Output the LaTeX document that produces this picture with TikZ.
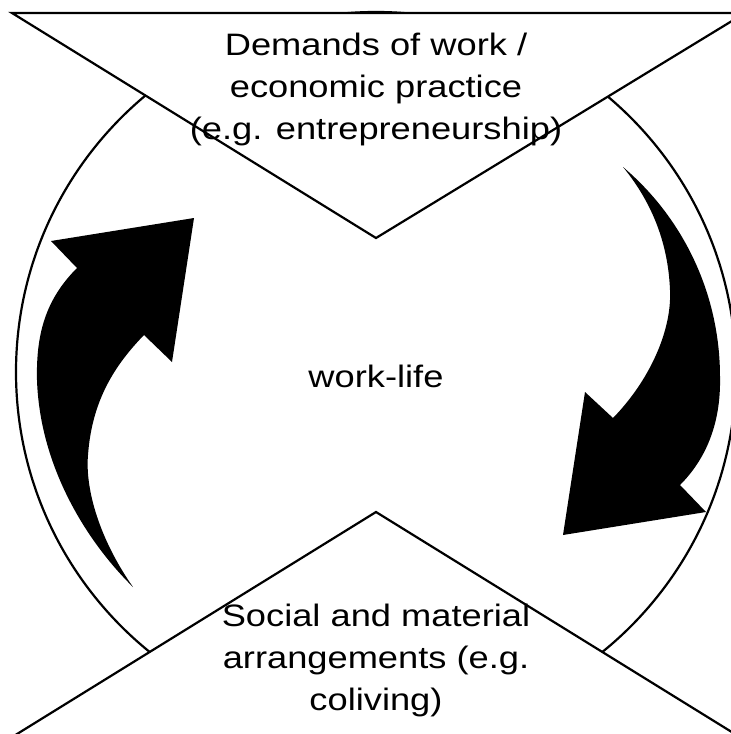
\documentclass[tikz,border=0pt]{standalone}
\usepackage{fontspec}
\setmainfont{Liberation Sans}[FakeStretch=1.17]

\begin{document}
\begin{tikzpicture}[x=0.5pt, y=-0.5pt]
            \tikzstyle{panel}=[draw, fill=white, line width=1.1pt]
            \tikzstyle{ring}=[draw, line width=1.1pt]
            \tikzstyle{bigarrow}=[fill=black]
            \tikzstyle{caption}=[align=center, inner sep=0pt, font=\fontsize{15.5pt}{21pt}\selectfont]
            \useasboundingbox (0,0) rectangle (731,734);
            \clip (0,0) rectangle (731,734);

            \draw[ring] (376,372) circle [radius=180pt];

            % the two wedges
            \draw[panel] (12,13) -- (745,13) -- (376,238) -- cycle;
            \draw[panel] (-25,760) -- (376,512) -- (777,760) -- cycle;

            % curved arrows
            \fill[bigarrow] (194,218) -- (51,241) -- (77,268)
                .. controls (45,300) and (36,335) .. (37,380)
                .. controls (40,470) and (90,545) .. (133,587)
                .. controls (100,540) and (85,490) .. (88,455)
                .. controls (92,400) and (115,365) .. (144,335)
                -- (172,362) -- cycle;
            \fill[bigarrow] (563,535) -- (706,512) -- (680,485)
                .. controls (705,460) and (721,425) .. (720,377)
                .. controls (720,290) and (680,215) .. (623,167)
                .. controls (650,200) and (668,240) .. (670,290)
                .. controls (672,330) and (650,380) .. (613,418)
                -- (585,392) -- cycle;

            \node[caption] (demands) at (376,89) {Demands of work /\\economic practice\\(e.g. entrepreneurship)};
            \node[caption] (worklife) at (376,376) {work-life};
            \node[caption] (social) at (376,660) {Social and material\\arrangements (e.g.\\coliving)};
        \end{tikzpicture}
\end{document}
